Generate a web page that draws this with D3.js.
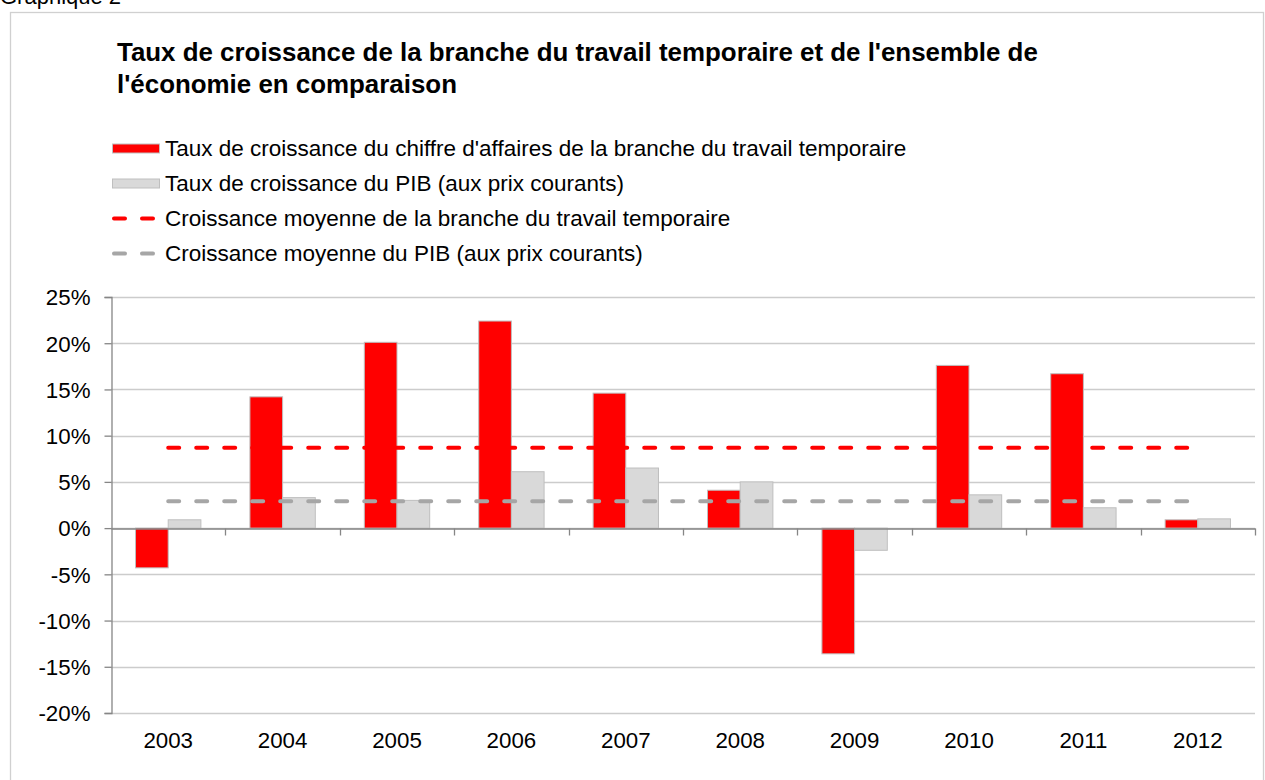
<!DOCTYPE html>
<html>
<head>
<meta charset="utf-8">
<script src="https://cdn.jsdelivr.net/npm/d3@7/dist/d3.min.js"></script>
<style>
  body { margin: 0; background: #fff; }
  svg text { font-family: "Liberation Sans", Arial, sans-serif; fill: #000; }
</style>
</head>
<body>
<div id="chart"></div>
<script>
// data
var years = ["2003", "2004", "2005", "2006", "2007", "2008", "2009", "2010", "2011", "2012"];
var interim = [-4.3, 14.2, 20.1, 22.4, 14.6, 4.1, -13.6, 17.6, 16.7, 0.9];
var pib = [0.9, 3.3, 3.0, 6.1, 6.5, 5.0, -2.4, 3.6, 2.2, 1.0];
var avgInterim = 8.7;
var avgPib = 2.9;
var yTicks = [-20, -15, -10, -5, 0, 5, 10, 15, 20, 25];
var legendLabels = [
  "Taux de croissance du chiffre d'affaires de la branche du travail temporaire",
  "Taux de croissance du PIB (aux prix courants)",
  "Croissance moyenne de la branche du travail temporaire",
  "Croissance moyenne du PIB (aux prix courants)"
];

var W = 1265, H = 780;
var svg = d3.select("#chart").append("svg")
  .attr("width", W)
  .attr("height", H);

// header (cut off at the top, like the source) + frame
svg.append("text")
  .attr("x", 0).attr("y", 4)
  .attr("font-size", 22)
  .text("Graphique 2");

svg.append("rect")
  .attr("x", 10.5).attr("y", 12.5)
  .attr("width", 1253).attr("height", 800)
  .attr("fill", "none")
  .attr("stroke", "#d0d0d0")
  .attr("stroke-width", 1.3);

// title
var title = svg.append("text")
  .attr("font-size", 25.9)
  .attr("font-weight", "bold");
title.append("tspan").attr("x", 117).attr("y", 61)
  .text("Taux de croissance de la branche du travail temporaire et de l'ensemble de");
title.append("tspan").attr("x", 117).attr("y", 93)
  .text("l'économie en comparaison");

// legend
var legend = svg.append("g").attr("transform", "translate(112, 148.5)");
var legendRow = 35;
legendLabels.forEach(function(lbl, i){
  var row = legend.append("g").attr("transform", "translate(0," + (i*legendRow) + ")");
  if(i < 2){
    row.append("rect")
      .attr("x", 0.5).attr("y", -4.5)
      .attr("width", 47).attr("height", 9)
      .attr("fill", i == 0 ? "#ff0000" : "#d9d9d9")
      .attr("stroke", "#bfbfbf");
  } else {
    row.append("line")
      .attr("x1", 2).attr("x2", 42)
      .attr("y1", 0).attr("y2", 0)
      .attr("stroke", i == 2 ? "#ff0000" : "#a6a6a6")
      .attr("stroke-width", 4)
      .attr("stroke-linecap", "round")
      .attr("stroke-dasharray", "11,17");
  }
  row.append("text")
    .attr("x", 53).attr("y", 7.8)
    .attr("font-size", 22.5)
    .text(lbl);
});

// plot area
var pLeft = 111, pRight = 1255, pTop = 297, pBottom = 713;
var x = d3.scaleBand().domain(years).range([pLeft, pRight]).paddingInner(0).paddingOuter(0);
var y = d3.scaleLinear().domain([-20, 25]).range([pBottom, pTop]);

var barW = x.bandwidth() / 3.5; // gap width 150%

// gridlines
svg.append("g")
  .selectAll("line")
  .data(yTicks)
  .enter().append("line")
    .attr("x1", pLeft).attr("x2", pRight)
    .attr("y1", d => Math.round(y(d)) + 0.5)
    .attr("y2", d => Math.round(y(d)) + 0.5)
    .attr("stroke", "#cccccc")
    .attr("stroke-width", 1.3);

// y axis
var yAxis = d3.axisLeft(y)
  .tickValues(yTicks)
  .tickSize(7)
  .tickFormat(d => d + "%");
var yg = svg.append("g")
  .attr("transform", "translate(" + (pLeft + 0.5) + ",0)")
  .call(yAxis);
yg.select(".domain").attr("stroke", "#868686").attr("stroke-width", 1.3);
yg.selectAll(".tick line").attr("stroke", "#868686").attr("stroke-width", 1.3);
yg.selectAll(".tick text")
  .attr("font-size", 22.3)
  .attr("font-family", "'Liberation Sans', Arial, sans-serif")
  .attr("fill", "#000")
  .attr("x", -21)
  .attr("dy", "0.35em");

// bars
var bars = svg.append("g");
bars.selectAll(".bar-int")
  .data(interim)
  .enter().append("rect")
    .attr("class", "bar-int")
    .attr("x", (d, i) => x(years[i]) + x.bandwidth()/2 - barW)
    .attr("y", d => y(Math.max(0, d)))
    .attr("width", barW)
    .attr("height", d => Math.abs(y(d) - y(0)))
    .attr("fill", "#ff0000")
    .attr("stroke", "#bfbfbf")
    .attr("stroke-width", 1);

bars.selectAll(".bar-pib")
  .data(pib)
  .enter().append("rect")
    .attr("class", "bar-pib")
    .attr("x", (d, i) => x(years[i]) + x.bandwidth()/2)
    .attr("y", d => y(Math.max(0, d)))
    .attr("width", barW)
    .attr("height", d => Math.abs(y(d) - y(0)))
    .attr("fill", "#d9d9d9")
    .attr("stroke", "#bfbfbf")
    .attr("stroke-width", 1);

// x axis on zero line
var xAxis = d3.axisBottom(x).tickSize(0).tickFormat("");
var xg = svg.append("g")
  .attr("transform", "translate(0," + (Math.round(y(0)) + 0.5) + ")")
  .call(xAxis);
xg.select(".domain").attr("stroke", "#868686").attr("stroke-width", 1.3);
var bounds = years.map(d => x(d)).concat([pRight]).slice(1);
xg.selectAll(".bound")
  .data(bounds)
  .enter().append("line")
    .attr("class", "bound")
    .attr("x1", d => Math.round(d) + 0.5).attr("x2", d => Math.round(d) + 0.5)
    .attr("y1", 0).attr("y2", 7)
    .attr("stroke", "#868686")
    .attr("stroke-width", 1.3);

// year labels at the bottom
svg.append("g").selectAll("text")
  .data(years)
  .enter().append("text")
    .attr("x", d => x(d) + x.bandwidth()/2)
    .attr("y", 748)
    .attr("text-anchor", "middle")
    .attr("font-size", 22.3)
    .text(d => d);

// average lines
var line = d3.line().x(d => x(d) + x.bandwidth()/2);
svg.append("path")
  .datum([years[0], years[years.length-1]])
  .attr("d", line.y(() => y(avgInterim)))
  .attr("fill", "none")
  .attr("stroke", "#ff0000")
  .attr("stroke-width", 4)
  .attr("stroke-linecap", "round")
  .attr("stroke-dasharray", "11,17");

svg.append("path")
  .datum([years[0], years[years.length-1]])
  .attr("d", line.y(() => y(avgPib)))
  .attr("fill", "none")
  .attr("stroke", "#a6a6a6")
  .attr("stroke-width", 4)
  .attr("stroke-linecap", "round")
  .attr("stroke-dasharray", "11,17");
</script>
</body>
</html>
